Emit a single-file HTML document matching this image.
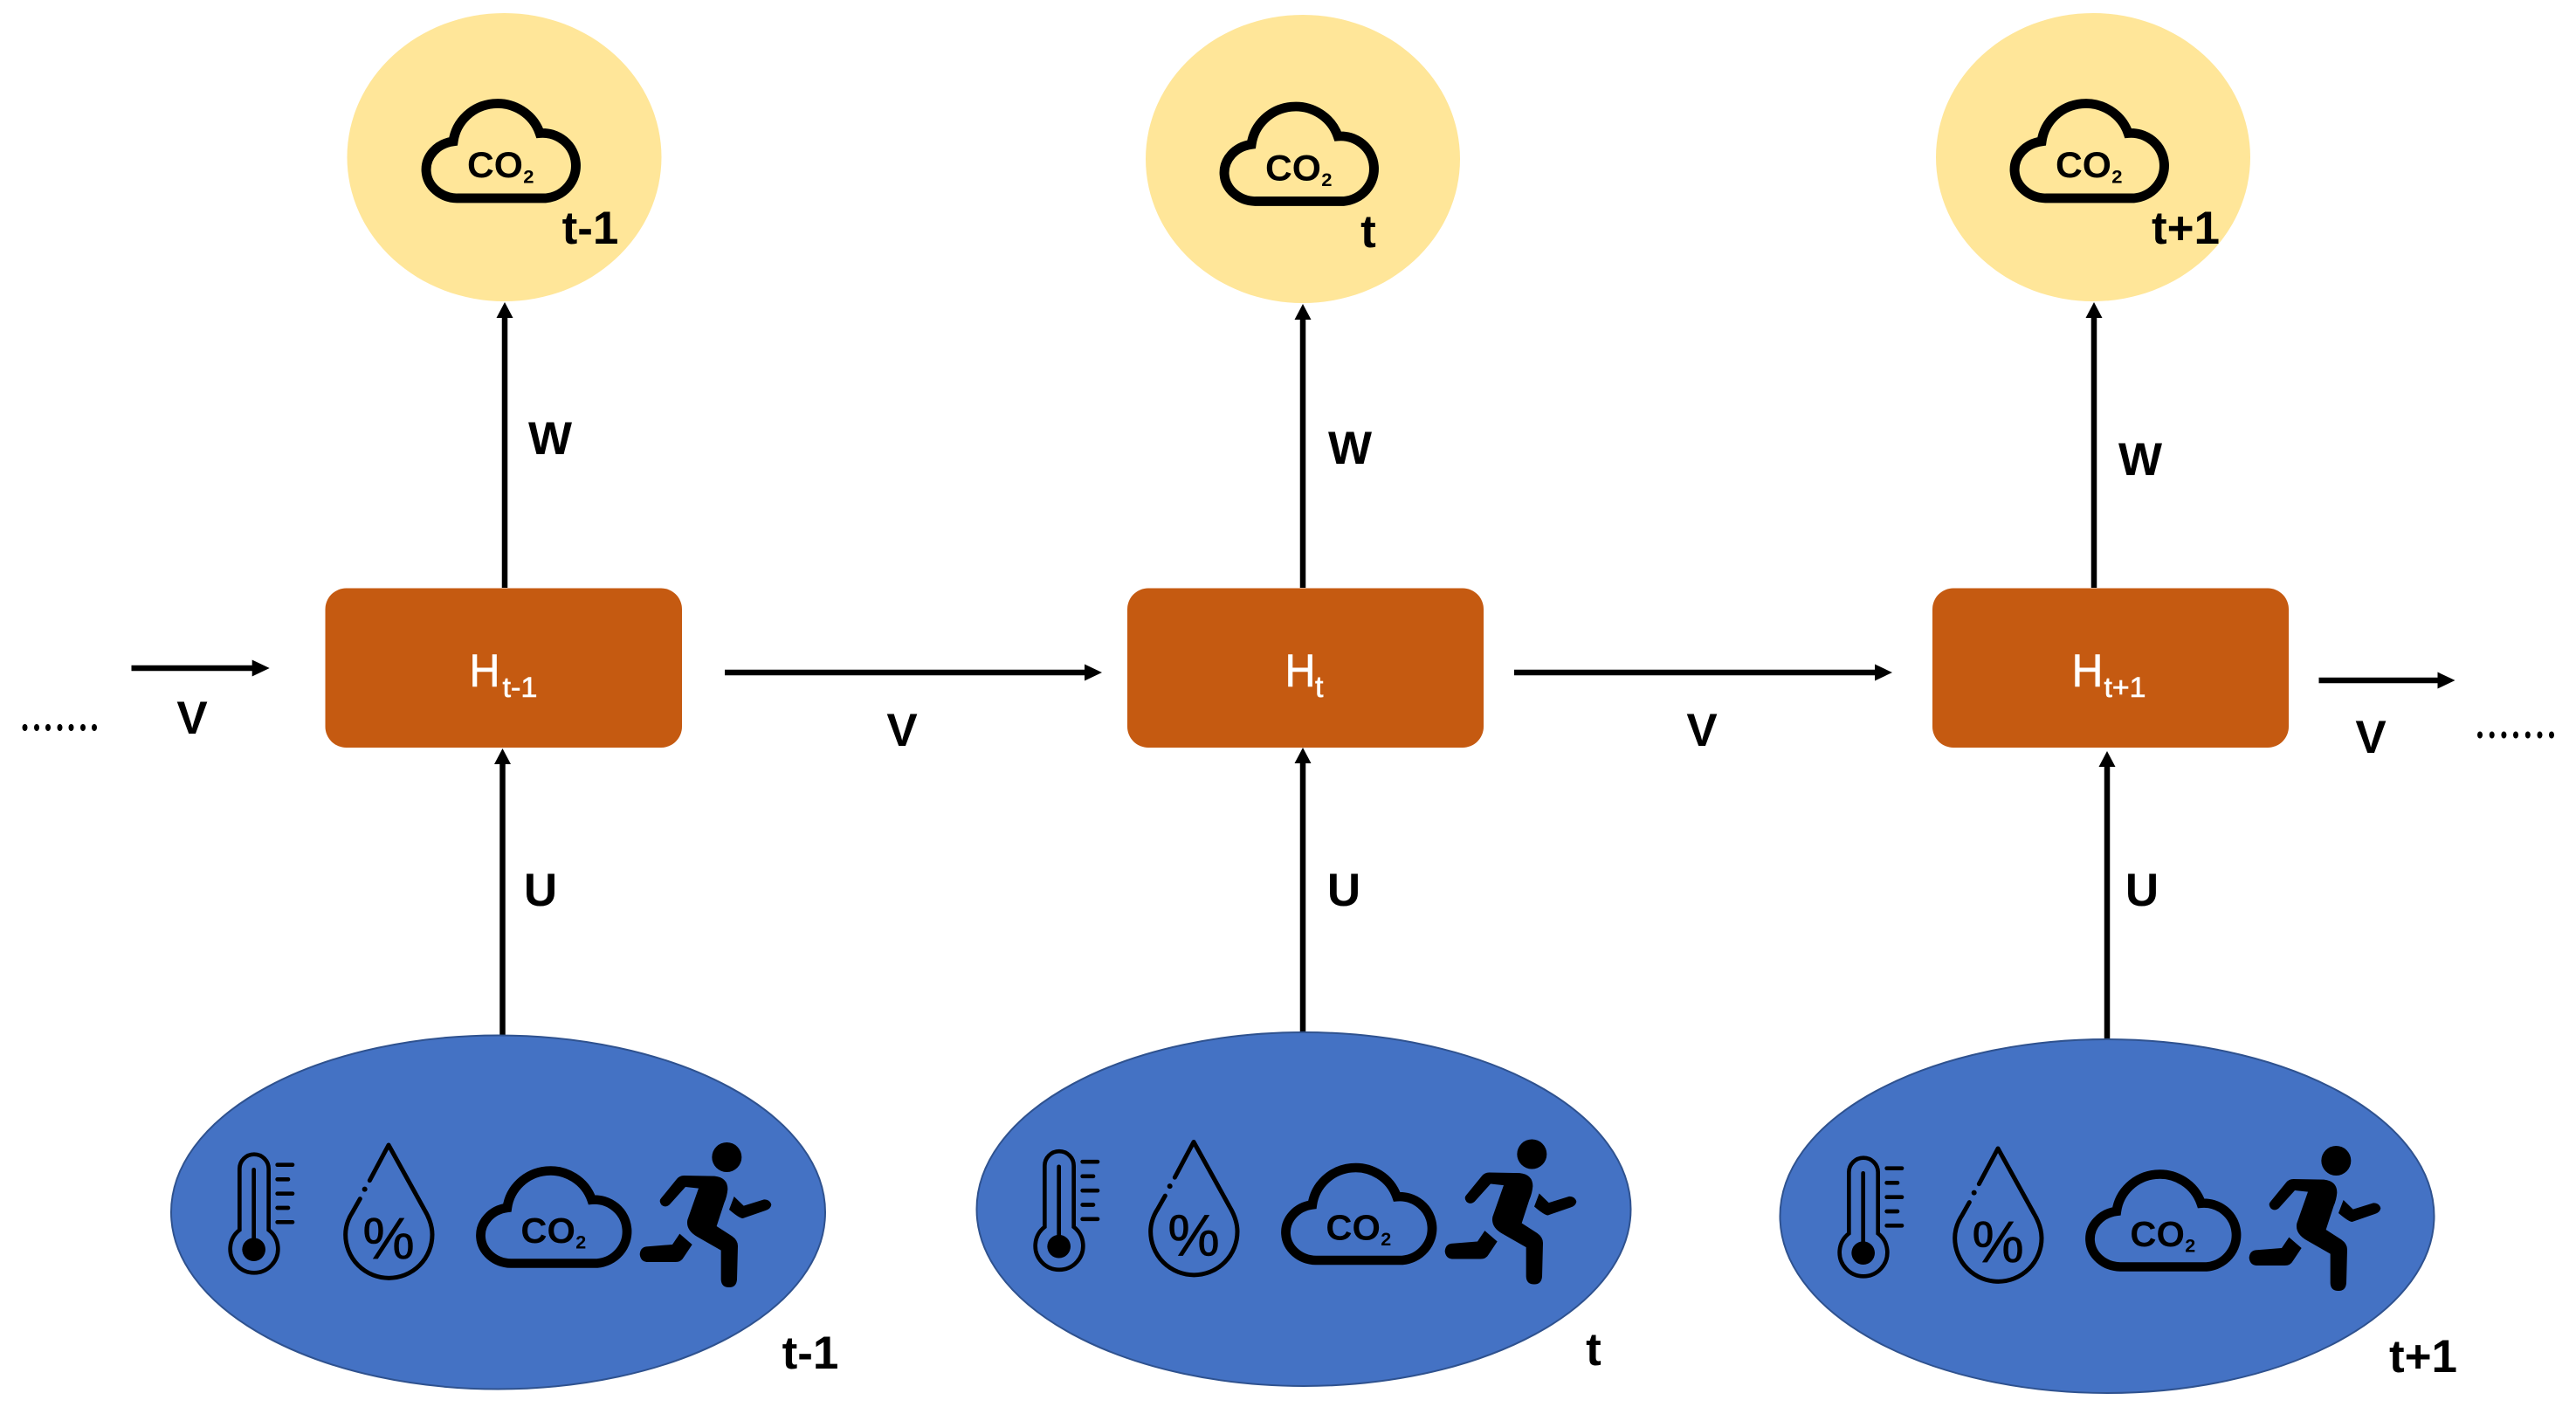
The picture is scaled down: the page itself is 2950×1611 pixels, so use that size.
<!DOCTYPE html>
<html><head><meta charset="utf-8"><style>
html,body{margin:0;padding:0;background:#fff}
svg{display:block}
text{font-family:"Liberation Sans",sans-serif}
.b{font-weight:bold;font-size:53px;fill:#000;text-anchor:middle}
.h{fill:#fff;stroke:#fff;stroke-width:.6px}
.c{font-weight:bold;font-size:120px;fill:#000}
.s{font-weight:bold;font-size:62px;fill:#000}
</style></head><body>
<svg width="2950" height="1611" viewBox="0 0 2950 1611" xmlns="http://www.w3.org/2000/svg">
<defs>
<path id="cloud" d="M170 372H455A107 107 0 1 0 437 158A144 144 0 0 0 158 185A102 94 0 0 0 170 372Z" fill="none" stroke="#000" stroke-width="31" stroke-linejoin="miter"/>
<g id="therm" transform="translate(250,1300) scale(.33333)" fill="none" stroke="#000" stroke-width="14" stroke-linecap="round">
<path d="M73 325V115A50 50 0 0 1 173 115V325A82 82 0 1 1 73 325Z"/>
<path d="M122 118V360"/>
<circle cx="122" cy="392" r="40" fill="#000" stroke="none"/>
<path d="M203 101H255M203 151H240M203 200H255M203 249H240M203 298H255"/>
</g>
<g id="drop" transform="translate(250,1300) scale(.33333)" fill="none" stroke="#000" stroke-width="15" stroke-linecap="round" stroke-linejoin="round">
<path d="M520 155L585 33L708 255Q735 300 735 341A149 149 0 0 1 437 341Q437 300 462 262L487 218"/>
<circle cx="503" cy="185" r="9" fill="#000" stroke="none"/>
</g>
<g id="run" transform="translate(720,1290) scale(.33333)" fill="#000">
<circle cx="337" cy="105" r="51"/>
<path d="M112 245L165 180Q175 168 190 168L295 170Q340 175 340 215Q338 240 328 262L302 342L355 376Q375 390 375 410L372 525Q370 552 345 552Q318 552 317 525V425L235 378Q195 355 202 320L240 212L195 207L140 268Q125 280 112 268Q102 255 112 245Z"/>
<path d="M60 412L150 405L175 368L218 405L188 450Q180 465 160 465H62Q40 462 38 438Q40 415 60 412Z"/>
<path d="M362 240L395 272L465 250Q485 250 490 268Q488 282 470 288L392 315Q380 315 345 285Z"/>
</g>
</defs>

<!-- connectors -->
<g stroke="#000" stroke-width="6.500" fill="none">
<path d="M578 673V360M1492 673V362M2398 673V360"/>
<path d="M575.500 1186V870M1492 1182V870M2413 1190V873"/>
<path d="M150.500 765H295M830 770H1248M1734 770H2153M2655.500 779H2798"/>
</g>
<g fill="#000">
<path d="M578 346l-9.500 18h19zM1492 348l-9.500 18h19zM2398 346l-9.500 18h19z"/>
<path d="M575.500 857l-9.500 18h19zM1492 856l-9.500 18h19zM2413 860l-9.500 18h19z"/>
<path d="M308.700 765l-20-9.500v19zM1262 770l-20-9.500v19zM2167 770l-20-9.500v19zM2811.500 779l-20-9.500v19z"/>
</g>

<!-- output ellipses -->
<ellipse cx="577.500" cy="180" rx="180" ry="165" fill="#FFE699"/>
<ellipse cx="1492" cy="182" rx="180" ry="165" fill="#FFE699"/>
<ellipse cx="2397" cy="180" rx="180" ry="165" fill="#FFE699"/>

<!-- input ellipses -->
<ellipse cx="570.500" cy="1388" rx="374.500" ry="202.500" fill="#4472C4" stroke="#2F528F" stroke-width="2"/>
<ellipse cx="1493" cy="1384.500" rx="374.500" ry="202.500" fill="#4472C4" stroke="#2F528F" stroke-width="2"/>
<ellipse cx="2413" cy="1392.500" rx="374.500" ry="202.500" fill="#4472C4" stroke="#2F528F" stroke-width="2"/>

<!-- boxes -->
<rect x="372.500" y="673.500" width="408.500" height="182.500" rx="24" ry="24" fill="#C55A11"/>
<rect x="1291" y="673.500" width="408" height="182.500" rx="24" ry="24" fill="#C55A11"/>
<rect x="2213" y="673.500" width="408" height="182.500" rx="24" ry="24" fill="#C55A11"/>

<!-- box labels -->
<text class="h" x="537.500" y="786" font-size="53" textLength="35" lengthAdjust="spacingAndGlyphs">H</text>
<text class="h" x="575.500" y="798" font-size="32" textLength="40" lengthAdjust="spacingAndGlyphs">t-1</text>
<text class="h" x="1471.500" y="786" font-size="53" textLength="35" lengthAdjust="spacingAndGlyphs">H</text>
<text class="h" x="1506" y="798" font-size="34">t</text>
<text class="h" x="2372.500" y="786" font-size="53" textLength="36" lengthAdjust="spacingAndGlyphs">H</text>
<text class="h" x="2409.500" y="798" font-size="32" textLength="48" lengthAdjust="spacingAndGlyphs">t+1</text>

<!-- W U V labels -->
<text class="b" x="630" y="520">W</text>
<text class="b" x="1546" y="531">W</text>
<text class="b" x="2451" y="544">W</text>
<text class="b" x="619" y="1037">U</text>
<text class="b" x="1539" y="1037">U</text>
<text class="b" x="2453" y="1037">U</text>
<text class="b" x="220" y="840">V</text>
<text class="b" x="1033" y="854">V</text>
<text class="b" x="1949" y="854">V</text>
<text class="b" x="2715" y="862">V</text>

<!-- dots -->
<g fill="#000">
<ellipse cx="28.500" cy="833" rx="3" ry="4"/><ellipse cx="42" cy="833" rx="3" ry="4"/><ellipse cx="55" cy="833" rx="3" ry="4"/><ellipse cx="68.500" cy="833" rx="3" ry="4"/><ellipse cx="81.500" cy="833" rx="3" ry="4"/><ellipse cx="95" cy="833" rx="3" ry="4"/><ellipse cx="108" cy="833" rx="3" ry="4"/>
<ellipse cx="2840" cy="841.500" rx="3" ry="4"/><ellipse cx="2853.700" cy="841.500" rx="3" ry="4"/><ellipse cx="2867.400" cy="841.500" rx="3" ry="4"/><ellipse cx="2881" cy="841.500" rx="3" ry="4"/><ellipse cx="2894.800" cy="841.500" rx="3" ry="4"/><ellipse cx="2908.500" cy="841.500" rx="3" ry="4"/><ellipse cx="2922" cy="841.500" rx="3" ry="4"/>
</g>

<!-- t labels -->
<text class="b" x="676" y="279">t-1</text>
<text class="b" x="1567" y="283">t</text>
<text class="b" x="2503" y="279">t+1</text>
<text class="b" x="928" y="1567">t-1</text>
<text class="b" x="1825" y="1563">t</text>
<text class="b" x="2775" y="1571">t+1</text>

<!-- top clouds -->
<g transform="translate(463,97.500) scale(.355,.348)"><use href="#cloud"/><text class="c" x="203" y="303">CO</text><text class="s" x="384" y="322">2</text></g>
<g transform="translate(1377,101) scale(.355,.348)"><use href="#cloud"/><text class="c" x="203" y="303">CO</text><text class="s" x="384" y="322">2</text></g>
<g transform="translate(2282,97.500) scale(.355,.348)"><use href="#cloud"/><text class="c" x="203" y="303">CO</text><text class="s" x="384" y="322">2</text></g>

<!-- bottom icon group 1 -->
<g>
<use href="#therm"/><use href="#drop"/><text x="445" y="1441" font-size="67" text-anchor="middle" stroke="#000" stroke-width=".6">%</text><use href="#run"/>
<g transform="translate(526,1320) scale(.347,.34)"><use href="#cloud"/><text class="c" x="203" y="303">CO</text><text class="s" x="384" y="322">2</text></g>
</g>
<!-- bottom icon group 2 -->
<g transform="translate(922,-3.500)">
<use href="#therm"/><use href="#drop"/><text x="445" y="1441" font-size="67" text-anchor="middle" stroke="#000" stroke-width=".6">%</text><use href="#run"/>
<g transform="translate(526,1320) scale(.347,.34)"><use href="#cloud"/><text class="c" x="203" y="303">CO</text><text class="s" x="384" y="322">2</text></g>
</g>
<!-- bottom icon group 3 -->
<g transform="translate(1843,4)">
<use href="#therm"/><use href="#drop"/><text x="445" y="1441" font-size="67" text-anchor="middle" stroke="#000" stroke-width=".6">%</text><use href="#run"/>
<g transform="translate(526,1320) scale(.347,.34)"><use href="#cloud"/><text class="c" x="203" y="303">CO</text><text class="s" x="384" y="322">2</text></g>
</g>
</svg>
</body></html>
